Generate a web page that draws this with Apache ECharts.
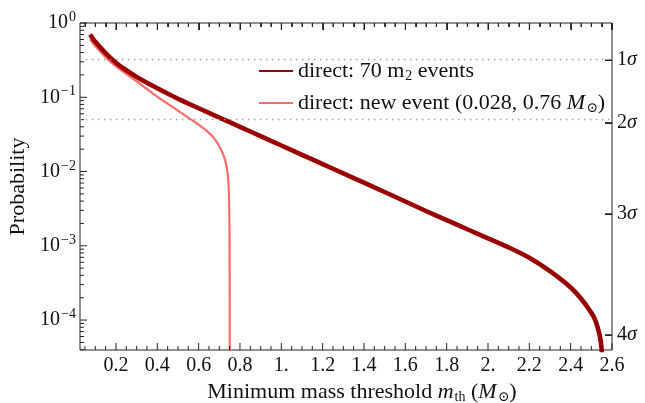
<!DOCTYPE html>
<html>
<head>
<meta charset="utf-8">
<script src="https://cdn.jsdelivr.net/npm/echarts@6/dist/echarts.min.js"></script>
<style>
  html, body { margin: 0; padding: 0; background: #fff; }
  #chart { width: 645px; height: 403px; }
</style>
</head>
<body>
<div id="chart"></div>
<script>
const X_MIN = 0.026
const X_MAX = 2.6
const Y_MIN = 3.95e-5
const Y_MAX = 1

// direct: 70 m2 events
const massDirect = [0.075, 0.1, 0.15, 0.2, 0.25, 0.3, 0.4, 0.5, 0.6, 0.7, 0.8, 0.9, 1.0, 1.1, 1.2, 1.3, 1.4, 1.5,
  1.6, 1.7, 1.8, 1.9, 2.0, 2.1, 2.2, 2.3, 2.4, 2.45, 2.5, 2.52, 2.54, 2.55, 2.556]
const probDirect = [0.70, 0.558, 0.394, 0.292, 0.231, 0.188, 0.132, 0.0955, 0.0711, 0.0533, 0.040, 0.0299, 0.0224, 0.0168, 0.0126, 0.00942, 0.00707, 0.0053,
  0.00395, 0.00294, 0.00222, 0.00167, 0.00126, 0.00095, 0.00069, 0.000455, 0.000275, 0.000195, 0.000125, 0.000098, 0.000063, 0.000040, 0.00001]

// direct: new event
const massNew = [0.075, 0.1, 0.15, 0.2, 0.3, 0.4, 0.5, 0.55, 0.6, 0.65, 0.675, 0.7, 0.72, 0.73, 0.74, 0.745, 0.748, 0.7495, 0.7503, 0.7508]
const probNew = [0.604, 0.490, 0.347, 0.260, 0.164, 0.102, 0.0661, 0.0531, 0.0427, 0.0331, 0.0279, 0.0219, 0.0166, 0.0135, 0.00955, 0.0063, 0.00316, 0.00126, 0.00025, 0.00001]

const xMajorTicks = [0.2, 0.4, 0.6, 0.8, 1.0, 1.2, 1.4, 1.6, 1.8, 2.0, 2.2, 2.4, 2.6]
const yMajorTicks = [1e-4, 1e-3, 1e-2, 1e-1, 1]
const sigmaP = [0.3173, 0.0455, 0.0027, 6.334e-5]
const sigmaLabels = ['1', '2', '3', '4']

const NAME_DIRECT = 'direct: 70 m2 events'
const NAME_NEW = 'direct: new event (0.028, 0.76 M)'

const xMinorTicks = []
for (let i = 1; i <= 52; i++) {
  const v = i * 0.05
  if (i % 4 !== 0 && v > X_MIN) xMinorTicks.push(+v.toFixed(2))
}
const yMinorTicks = []
for (let e = -5; e <= -1; e++) {
  for (let k = 2; k <= 9; k++) {
    const v = k * Math.pow(10, e)
    if (v >= Y_MIN && v <= Y_MAX) yMinorTicks.push(v)
  }
}

const FONT = 'Liberation Serif, DejaVu Serif, serif'
const INK = '#111'
const AXIS = '#222'
const rich = {
  t: { fontFamily: FONT, fontSize: 22, color: INK },
  it: { fontFamily: FONT, fontSize: 22, color: INK, fontStyle: 'italic' },
  sub: { fontFamily: FONT, fontSize: 14, color: INK, padding: [10, 0, 0, 1] },
  n: { fontFamily: FONT, fontSize: 20, color: INK },
  ni: { fontFamily: FONT, fontSize: 20, color: INK, fontStyle: 'italic' },
  sup: { fontFamily: FONT, fontSize: 14, color: INK, padding: [0, 0, 11, 1] }
}

// half a tick length expressed in axis units (plot box is 532 x 327 px)
const LOG_SPAN = Math.log10(Y_MAX / Y_MIN)
const yBelowTop = px => Y_MAX * Math.pow(10, -px * LOG_SPAN / 327)
const xLeftOfRight = px => X_MAX - px * (X_MAX - X_MIN) / 532

function zip (xs, ys) {
  return xs.map((x, i) => [x, ys[i]])
}

// frame ticks: thin rect symbols placed through the axes
function tickSeries (points, size, offset) {
  return {
    type: 'scatter',
    xAxisIndex: 0,
    yAxisIndex: 0,
    data: points,
    symbol: 'rect',
    symbolSize: size,
    symbolOffset: offset,
    itemStyle: { color: AXIS, opacity: 1 },
    silent: true,
    clip: false,
    z: 4
  }
}

const chart = echarts.init(document.getElementById('chart'), null, { renderer: 'canvas' })

const options = {
  animation: false,
  backgroundColor: '#fff',
  grid: {
    left: 80, right: 33, top: 23, bottom: 53,
    containLabel: false,
    outerBoundsMode: 'none',
    show: true,
    borderColor: AXIS,
    borderWidth: 1,
    backgroundColor: 'transparent'
  },
  legend: {
    left: 253,
    top: 55,
    orient: 'vertical',
    itemWidth: 34,
    itemHeight: 14,
    itemGap: 9,
    data: [NAME_DIRECT, NAME_NEW],
    itemStyle: { opacity: 0 },
    textStyle: { fontFamily: FONT, fontSize: 22, color: INK, rich },
    formatter (name) {
      if (name === NAME_DIRECT) return '{t|direct: 70 m}{sub|2}{t| events}'
      return '{t|direct: new event (0.028, 0.76 }{it|M}{sub|⊙}{t|)}'
    }
  },
  xAxis: {
    type: 'value',
    min: X_MIN,
    max: X_MAX,
    axisLine: { show: false },
    axisTick: { show: false },
    axisLabel: {
      customValues: xMajorTicks,
      margin: 6,
      fontFamily: FONT,
      fontSize: 20,
      color: INK,
      formatter (v) {
        if (Math.abs(v - Math.round(v)) < 1e-9) return Math.round(v) + '.'
        return v.toFixed(1)
      }
    },
    splitLine: { show: false },
    name: '{t|Minimum mass threshold }{it|m}{sub|th}{t| (}{it|M}{sub|⊙}{t|)}',
    nameLocation: 'middle',
    nameGap: 25,
    nameTextStyle: { rich, padding: [0, 0, 0, 32] }
  },
  yAxis: [
    {
      type: 'log',
      logBase: 10,
      position: 'left',
      min: Y_MIN,
      max: Y_MAX,
      axisLine: { show: false },
      axisTick: { show: false },
      axisLabel: {
        customValues: yMajorTicks,
        margin: 4,
        rich,
        formatter (v) {
          const e = Math.round(Math.log10(v))
          return '{n|10}{sup|' + (e === 0 ? '0' : '\u2212' + (-e)) + '}'
        }
      },
      splitLine: { show: false },
      name: 'Probability',
      nameLocation: 'middle',
      nameGap: 46,
      nameTextStyle: { fontFamily: FONT, fontSize: 22, color: INK }
    },
    {
      type: 'log',
      logBase: 10,
      position: 'right',
      min: Y_MIN,
      max: Y_MAX,
      axisLine: { show: false },
      axisTick: { show: false },
      axisLabel: {
        customValues: sigmaP,
        margin: 5,
        rich,
        formatter (v) {
          let best = 0
          sigmaP.forEach((p, i) => {
            if (Math.abs(Math.log(p) - Math.log(v)) < Math.abs(Math.log(sigmaP[best]) - Math.log(v))) best = i
          })
          return '{n|' + sigmaLabels[best] + '}{ni|σ}'
        }
      },
      splitLine: { show: false }
    }
  ],
  series: [
    {
      type: 'line',
      xAxisIndex: 0,
      yAxisIndex: 0,
      data: [],
      silent: true,
      z: 1,
      markLine: {
        silent: true,
        symbol: ['none', 'none'],
        label: { show: false },
        lineStyle: { color: '#9a9a9a', type: [1.3, 4.7], width: 1.3 },
        data: sigmaP.map(p => ({ yAxis: p }))
      }
    },
    {
      name: NAME_NEW,
      type: 'line',
      xAxisIndex: 0,
      yAxisIndex: 0,
      data: zip(massNew, probNew),
      symbol: 'none',
      smooth: 0.3,
      clip: true,
      color: '#ff6a6a',
      lineStyle: { color: '#ff6a6a', width: 2.2 },
      z: 2
    },
    {
      name: NAME_DIRECT,
      type: 'line',
      xAxisIndex: 0,
      yAxisIndex: 0,
      data: zip(massDirect, probDirect),
      symbol: 'none',
      smooth: 0.3,
      clip: true,
      color: '#990000',
      lineStyle: { color: '#990000', width: 4.6 },
      z: 3
    },
    tickSeries(xMajorTicks.map(v => [v, Y_MIN]), [1, 7], [0, -3.5]),
    tickSeries(xMinorTicks.map(v => [v, Y_MIN]), [1, 4], [0, -2]),
    tickSeries(yMajorTicks.map(v => [X_MIN, v]), [7, 1], [3.5, 0]),
    tickSeries(yMinorTicks.map(v => [X_MIN, v]), [4, 1], [2, 0]),
    // top and right ticks: centred half a tick inside the frame, no offset
    tickSeries(xMajorTicks.map(v => [Math.min(v, xLeftOfRight(0.5)), yBelowTop(3.5)]), [1, 7], [0, 0]),
    tickSeries(xMinorTicks.map(v => [v, yBelowTop(2)]), [1, 4], [0, 0]),
    tickSeries(sigmaP.map(p => [xLeftOfRight(3.5), p]), [7, 1], [0, 0])
  ]
}

chart.setOption(options)

// same top / right ticks again as plain lines, placed with the chart's own axis conversion
try {
  const finder = { gridIndex: 0 }
  const tickStyle = { stroke: AXIS, lineWidth: 1 }
  const frameTicks = []
  const topTick = (v, len) => {
    const p = chart.convertToPixel(finder, [v, Y_MAX])
    const x = Math.round(p[0]) + 0.5
    frameTicks.push({ type: 'line', silent: true, z: 100, shape: { x1: x, y1: p[1], x2: x, y2: p[1] + len }, style: tickStyle })
  }
  xMajorTicks.forEach(v => topTick(v, 7))
  xMinorTicks.forEach(v => topTick(v, 4))
  sigmaP.forEach(s => {
    const p = chart.convertToPixel(finder, [X_MAX, s])
    const y = Math.round(p[1]) + 0.5
    frameTicks.push({ type: 'line', silent: true, z: 100, shape: { x1: p[0], y1: y, x2: p[0] - 7, y2: y }, style: tickStyle })
  })
  chart.setOption({ graphic: frameTicks })
} catch (err) {
  console.log(err)
}
</script>
</body>
</html>
